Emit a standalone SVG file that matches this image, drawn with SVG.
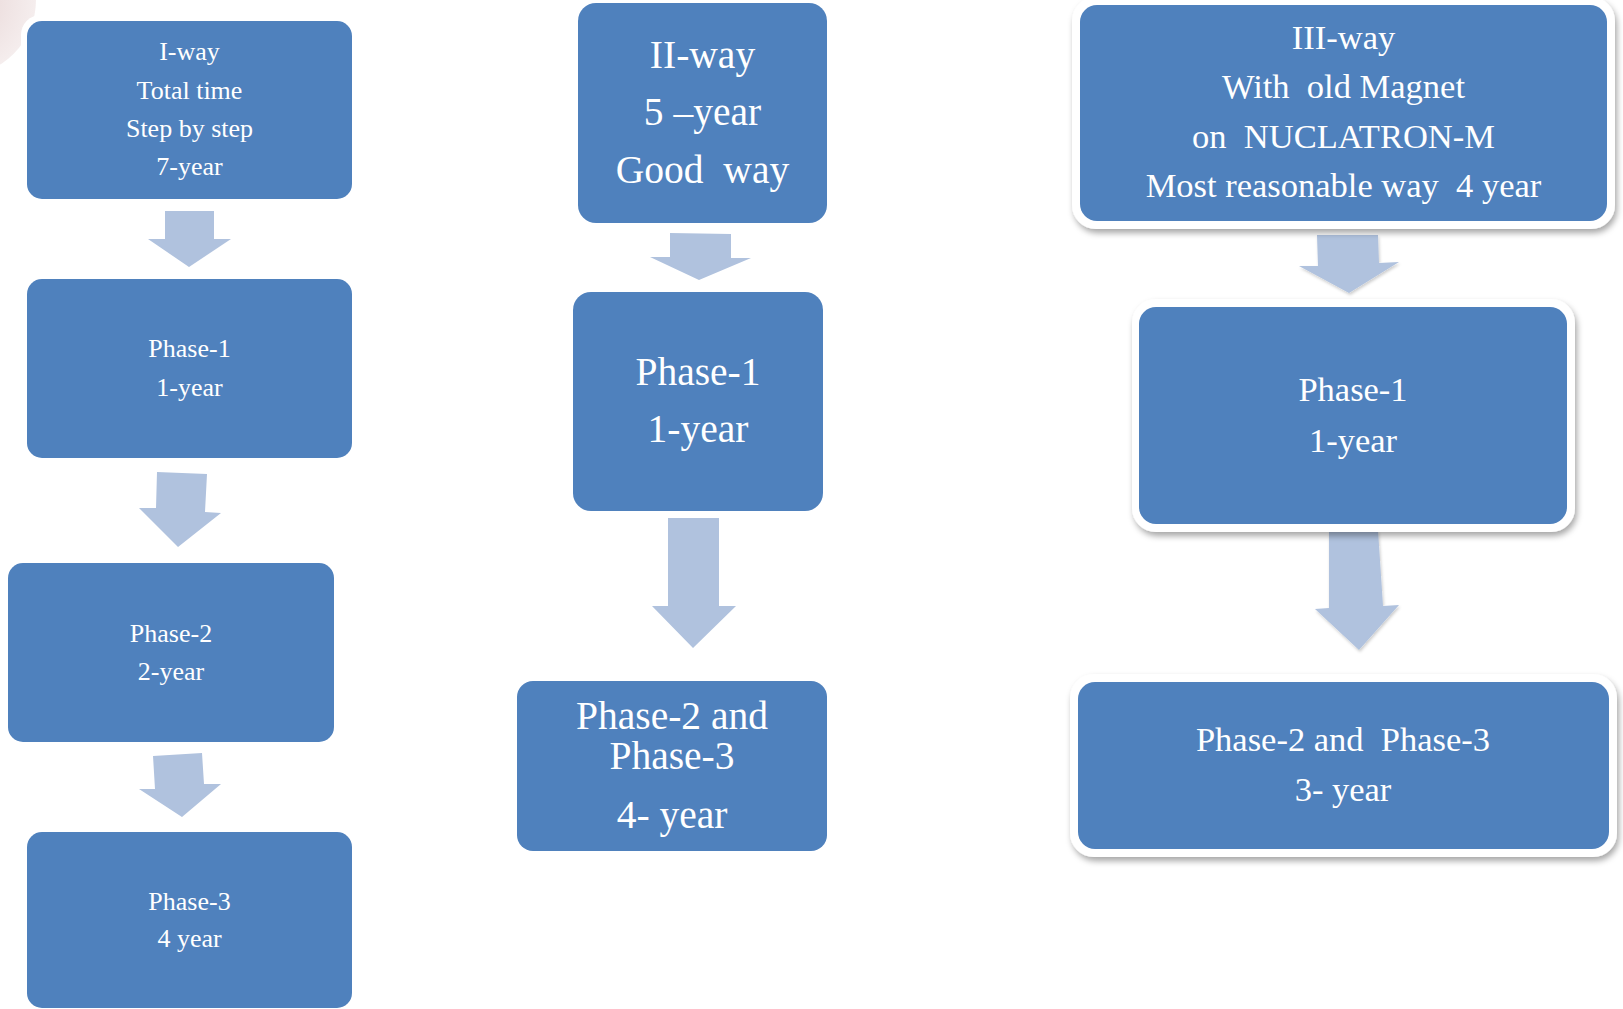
<svg xmlns="http://www.w3.org/2000/svg" width="1623" height="1009" viewBox="0 0 1623 1009">
  <defs>
    <radialGradient id="blobFill" cx="-40" cy="0" r="80" gradientUnits="userSpaceOnUse">
      <stop offset="0" stop-color="#e6d3d3"/>
      <stop offset="1" stop-color="#f6efef"/>
    </radialGradient>
    <filter id="shadow" x="-10%" y="-10%" width="120%" height="130%">
      <feDropShadow dx="2" dy="4" stdDeviation="3" flood-color="#000" flood-opacity="0.35"/>
    </filter>
    <filter id="arrowShadow" x="-20%" y="-20%" width="140%" height="140%">
      <feDropShadow dx="1" dy="2" stdDeviation="1.5" flood-color="#000" flood-opacity="0.2"/>
    </filter>
    <style>
      .box { fill: #4f81bd; }
      .frame { fill: #ffffff; filter: url(#shadow); }
      .arrow { fill: #b0c2de; }
      .arrow-sh { fill: #b0c2de; filter: url(#arrowShadow); }
      text { fill: #ffffff; font-family: "Liberation Serif", "Times New Roman", serif; text-anchor: middle; white-space: pre; }
      .s26 { font-size: 26px; }
      .s34 { font-size: 34.5px; }
      .s39 { font-size: 39.5px; }
    </style>
  </defs>

  <rect width="1623" height="1009" fill="#ffffff"/>

  <!-- decorative corner blob -->
  <circle cx="-40" cy="0" r="76" fill="url(#blobFill)"/>

  <!-- connectors -->
  <g id="connectors">
    <polygon class="arrow" points="165,211 214,211 214,239 231,239 189,267 148,239 165,239"/>
    <polygon class="arrow" points="157,472 207,474 205,512 221,513 178,547 139,508 156,508"/>
    <polygon class="arrow" points="153,756 202,753 204,784 221,784 182,817 139,789 155,789"/>
    <polygon class="arrow" points="670,233 731,234 731,258 751,258 699,280 650,257 670,257"/>
    <polygon class="arrow" points="668,518 719,518 719,606 736,606 693,648 652,606 668,606"/>
    <polygon class="arrow-sh" points="1317,235 1378,235 1379,263 1399,262 1349,293 1299,266 1318,266"/>
    <polygon class="arrow-sh" points="1329,532 1378,530 1383,606 1399,605 1359,650 1315,609 1329,608"/>
  </g>

  <!-- column I -->
  <g id="i-way">
    <rect x="21" y="15" width="337" height="190" rx="20" fill="#ffffff"/>
    <rect class="box" x="27" y="21" width="325" height="178" rx="15"/>
    <text class="s26" x="189.5" y="60">I-way</text>
    <text class="s26" x="189.5" y="99">Total time</text>
    <text class="s26" x="189.5" y="137">Step by step</text>
    <text class="s26" x="189.5" y="175">7-year</text>
  </g>
  <g id="i-phase1">
    <rect class="box" x="27" y="279" width="325" height="179" rx="15"/>
    <text class="s26" x="189.5" y="357">Phase-1</text>
    <text class="s26" x="189.5" y="396">1-year</text>
  </g>
  <g id="i-phase2">
    <rect class="box" x="8" y="563" width="326" height="179" rx="15"/>
    <text class="s26" x="171" y="642">Phase-2</text>
    <text class="s26" x="171" y="680">2-year</text>
  </g>
  <g id="i-phase3">
    <rect class="box" x="27" y="832" width="325" height="176" rx="15"/>
    <text class="s26" x="189.5" y="910">Phase-3</text>
    <text class="s26" x="189.5" y="947">4 year</text>
  </g>

  <!-- column II -->
  <g id="ii-way">
    <rect class="box" x="578" y="3" width="249" height="220" rx="18"/>
    <text class="s39" x="702.5" y="68">II-way</text>
    <text class="s39" x="702.5" y="125">5 –year</text>
    <text class="s39" x="702.5" y="183" xml:space="preserve">Good  way</text>
  </g>
  <g id="ii-phase1">
    <rect class="box" x="573" y="292" width="250" height="219" rx="18"/>
    <text class="s39" x="698" y="385">Phase-1</text>
    <text class="s39" x="698" y="442">1-year</text>
  </g>
  <g id="ii-phase23">
    <rect class="box" x="517" y="681" width="310" height="170" rx="16"/>
    <text class="s39" x="672" y="729">Phase-2 and</text>
    <text class="s39" x="672" y="769">Phase-3</text>
    <text class="s39" x="672" y="828">4- year</text>
  </g>

  <!-- column III -->
  <g id="iii-way">
    <rect class="frame" x="1072" y="-3" width="543" height="232" rx="24"/>
    <rect class="box" x="1080" y="5" width="527" height="216" rx="17"/>
    <text class="s34" x="1343.5" y="49">III-way</text>
    <text class="s34" x="1343.5" y="98" xml:space="preserve">With  old Magnet</text>
    <text class="s34" x="1343.5" y="148" xml:space="preserve">on  NUCLATRON-M</text>
    <text class="s34" x="1343.5" y="197" xml:space="preserve">Most reasonable way  4 year</text>
  </g>
  <g id="iii-phase1">
    <rect class="frame" x="1132" y="299" width="443" height="233" rx="24"/>
    <rect class="box" x="1139" y="307" width="428" height="217" rx="17"/>
    <text class="s34" x="1353" y="401">Phase-1</text>
    <text class="s34" x="1353" y="452">1-year</text>
  </g>
  <g id="iii-phase23">
    <rect class="frame" x="1070" y="674" width="547" height="183" rx="24"/>
    <rect class="box" x="1078" y="682" width="531" height="167" rx="17"/>
    <text class="s34" x="1343" y="751" xml:space="preserve">Phase-2 and  Phase-3</text>
    <text class="s34" x="1343" y="801">3- year</text>
  </g>
</svg>
